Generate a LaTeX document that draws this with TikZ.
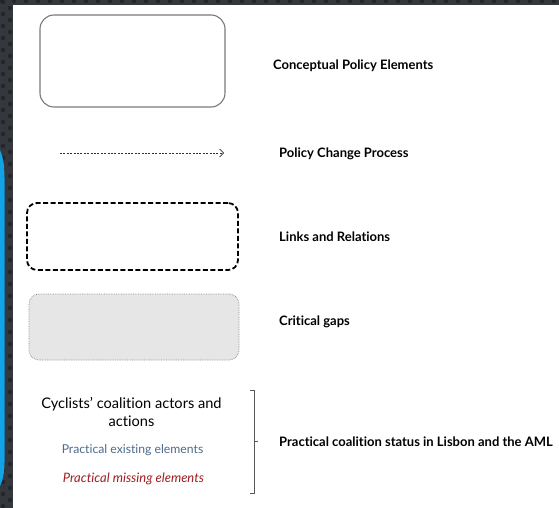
\documentclass[tikz,border=0pt]{standalone}
\usepackage{fontspec}
\setmainfont{Lato}[Ligatures=NoCommon]
\usetikzlibrary{arrows.meta}
\definecolor{framebg}{HTML}{34373C}
\definecolor{framedot}{HTML}{232529}
\definecolor{edgeblue}{HTML}{12A2E6}
\definecolor{boxline}{HTML}{7A7A7A}
\definecolor{gapfill}{HTML}{E6E6E6}
\definecolor{gapline}{HTML}{8A8A8A}
\definecolor{existcol}{HTML}{4E6A8C}
\definecolor{misscol}{HTML}{A01E22}
\begin{document}
\begin{tikzpicture}[x=1pt,y=-1pt,
  legbox/.style={draw=boxline, line width=1.1pt, rounded corners=14pt,
    minimum width=185pt, minimum height=92pt, inner sep=0pt},
  linkbox/.style={draw=black, line width=1.8pt, dash pattern=on 5pt off 2.5pt,
    rounded corners=10pt, minimum width=211pt, minimum height=67pt, inner sep=0pt},
  gapbox/.style={draw=gapline, fill=gapfill, line width=0.7pt, densely dotted,
    rounded corners=10pt, minimum width=210pt, minimum height=66pt, inner sep=0pt},
  procarrow/.style={draw=black!80, line width=0.8pt, dash pattern=on 2pt off 1.4pt,
    -{Straight Barb[length=4pt,width=8pt,line width=0.7pt]}},
  lab/.style={anchor=west, inner sep=0pt, font=\bfseries\fontsize{13}{15}\selectfont},
  actortxt/.style={align=center, inner sep=0pt, font=\fontsize{14.6}{17.5}\selectfont},
  practxt/.style={inner sep=0pt, font=\fontsize{12.2}{14}\selectfont},
  brk/.style={draw=black!65, line width=1pt}
]
\useasboundingbox (0,0) rectangle (559,508);

% dark textured frame on the top and left edges
\fill[framebg] (0,0) rectangle (559,508);
\begin{scope}
  \clip (0,0) rectangle (559,508);
  \foreach \j in {0,...,42} {
    \fill[framedot] (3,{\j*12+2}) circle (2.2pt);
    \fill[framedot] (10,{\j*12+8}) circle (2.2pt);
  }
  \foreach \i in {0,...,47} {
    \fill[framedot] ({\i*12+2},1) circle (2.2pt);
  }
\end{scope}
\fill[edgeblue] (0,150) .. controls (4,160) and (4.5,168) .. (4.5,178)
  -- (4.5,462) .. controls (4.5,472) and (3,480) .. (0,486) -- cycle;
\fill[white] (13,5) rectangle (559,508);

% legend symbols
\node[legbox] (concept) at (132.5,61) {};
\coordinate (arrS) at (60,153);
\coordinate (arrE) at (224,153);
\draw[procarrow] (arrS) -- (arrE);
\node[linkbox] (links) at (132.5,236.5) {};
\node[gapbox] (gaps) at (134,327) {};

% legend labels
\node[lab] (conceptlab) at (273,66) {Conceptual Policy Elements};
\node[lab] (proclab) at (279,153.5) {Policy Change Process};
\node[lab] (linkslab) at (279,236.5) {Links and Relations};
\node[lab] (gapslab) at (279,321.5) {Critical gaps};

% practical coalition block
\node[actortxt] (actors) at (131.5,412) {Cyclists’ coalition actors and\\actions};
\node[practxt, text=existcol] (exist) at (132.5,450) {Practical existing elements};
\node[practxt, text=misscol, font=\itshape\fontsize{13}{14}\selectfont] (miss) at (133.5,479) {Practical missing elements};

\coordinate (bt) at (254,390);
\coordinate (bb) at (254,493);
\coordinate (bm) at (254,441);
\draw[brk] (bt) ++(-4,0) -- (bt) -- (bb) -- ++(-4,0);
\draw[brk] (bm) -- ++(4,0);
\node[lab] (statuslab) at (279,442) {Practical coalition status in Lisbon and the AML};
\end{tikzpicture}
\end{document}
